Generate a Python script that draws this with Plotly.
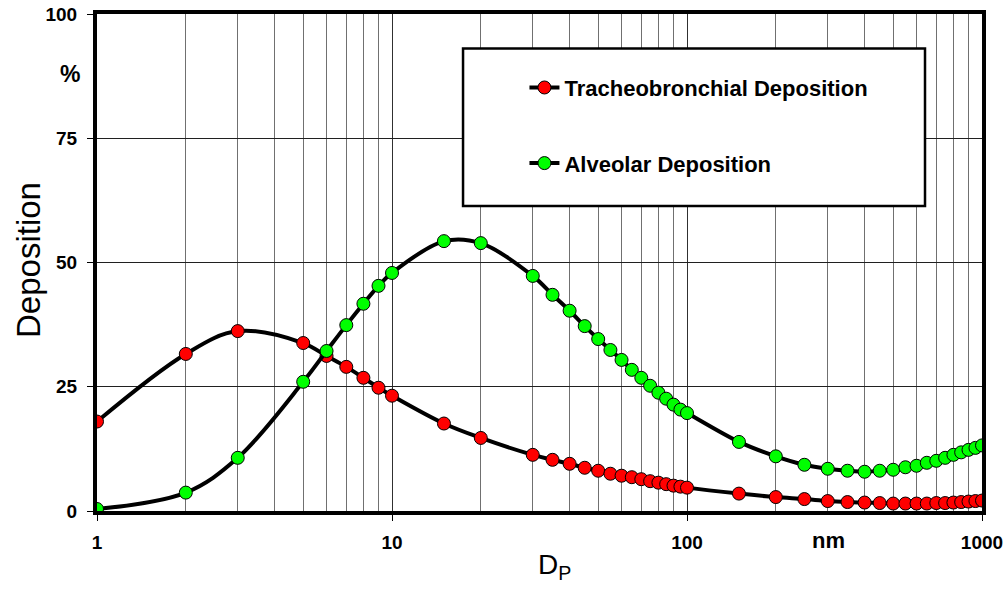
import plotly.graph_objects as go

# ---- data ----
diameter_nm = [1, 2, 3, 5, 6, 7, 8, 9, 10, 15, 20,
               30, 35, 40, 45, 50, 55, 60, 65, 70, 75, 80, 85, 90, 95, 100,
               150, 200, 250, 300, 350, 400, 450, 500, 550, 600, 650, 700,
               750, 800, 850, 900, 950, 1000]
tracheobronchial = [18.0, 31.6, 36.2, 33.8, 31.2, 29.0, 26.8, 24.8, 23.2, 17.6, 14.7,
                    11.3, 10.3, 9.5, 8.7, 8.1, 7.5, 7.1, 6.8, 6.4, 6.0, 5.7, 5.4, 5.1, 4.9, 4.7,
                    3.5, 2.8, 2.4, 2.0, 1.8, 1.7, 1.6, 1.5, 1.5, 1.5, 1.5, 1.6,
                    1.6, 1.7, 1.8, 1.9, 2.0, 2.1]
alveolar = [0.4, 3.7, 10.7, 26.0, 32.2, 37.4, 41.7, 45.3, 47.9, 54.3, 53.9,
            47.3, 43.5, 40.3, 37.2, 34.6, 32.4, 30.4, 28.4, 26.8, 25.2, 23.8, 22.6, 21.4, 20.4, 19.7,
            13.9, 11.0, 9.3, 8.5, 8.1, 7.9, 8.1, 8.3, 8.8, 9.1, 9.7, 10.1,
            10.7, 11.3, 11.8, 12.3, 12.7, 13.2]
series_names = ["Tracheobronchial Deposition", "Alveolar Deposition"]
x_major_ticks = [1, 10, 100, 1000]
x_major_labels = ["1", "10", "100", "1000"]
x_minor_ticks = [2, 3, 4, 5, 6, 7, 8, 9, 20, 30, 40, 50, 60, 70, 80, 90,
                 200, 300, 400, 500, 600, 700, 800, 900]
y_ticks = [0, 25, 50, 75, 100]

FONT = "Liberation Sans, Arial, sans-serif"

fig = go.Figure()
for name, vals, color, grp in [(series_names[0], tracheobronchial, "#FF0000", "a"),
                               (series_names[1], alveolar, "#00FF00", "b")]:
    fig.add_trace(go.Scatter(
        x=diameter_nm, y=vals, name=name, mode="lines+markers",
        legendgroup=grp,
        line=dict(color="black", width=4, shape="spline", smoothing=1.0),
        marker=dict(symbol="circle", size=13, color=color,
                    line=dict(color="black", width=1)),
    ))

fig.update_layout(
    width=1008, height=590,
    margin=dict(l=97, r=26, t=14, b=79, autoexpand=False),
    plot_bgcolor="white", paper_bgcolor="white",
    font=dict(family=FONT, color="black"),
    showlegend=True,
    legend=dict(
        x=0.483, y=0.894, xanchor="left", yanchor="top",
        bgcolor="rgba(0,0,0,0)", borderwidth=0,
        font=dict(family=FONT, size=22, color="black", weight="bold"),
        traceorder="grouped", tracegroupgap=44,
    ),
    shapes=[dict(type="rect", xref="paper", yref="paper",
                 x0=0.4136, x1=0.9356, y0=0.6135, y1=0.9307,
                 line=dict(color="black", width=2.5), fillcolor="white",
                 layer="above")],
    annotations=[
        dict(text="%", xref="paper", yref="y", x=-0.017, y=88, xanchor="right",
             yanchor="middle", showarrow=False,
             font=dict(family=FONT, size=23, weight="bold")),
        dict(text="nm", xref="x", yref="paper", x=2.48, y=-0.059, xanchor="center",
             yanchor="middle", showarrow=False,
             font=dict(family=FONT, size=22, weight="bold")),
        dict(text="Deposition", xref="paper", yref="paper", x=-0.078, y=0.505,
             textangle=-90, xanchor="center", yanchor="middle", showarrow=False,
             font=dict(family=FONT, size=33)),
        dict(text="D<sub>P</sub>", xref="paper", yref="paper", x=0.5175, y=-0.072,
             xanchor="center", yanchor="top", showarrow=False,
             font=dict(family=FONT, size=28)),
    ],
)

fig.update_xaxes(
    type="log", range=[0, 3], automargin=False,
    tickvals=x_major_ticks, ticktext=x_major_labels,
    tickfont=dict(family=FONT, size=19, weight="bold"),
    ticks="outside", ticklen=6, tickwidth=1, tickcolor="black",
    showgrid=True, gridcolor="#303030", gridwidth=1,
    minor=dict(tickvals=x_minor_ticks, showgrid=True, gridcolor="#707070",
               gridwidth=1, ticks=""),
    showline=True, linecolor="black", linewidth=4, mirror=True,
    zeroline=False, ticklabelstandoff=5,
)
fig.update_yaxes(
    range=[0, 100], tickvals=y_ticks, automargin=False,
    tickfont=dict(family=FONT, size=19, weight="bold"),
    ticks="outside", ticklen=6, tickwidth=1, tickcolor="black",
    showgrid=True, gridcolor="#202020", gridwidth=1,
    showline=True, linecolor="black", linewidth=4, mirror=True,
    zeroline=False, ticklabelstandoff=6,
)

fig.write_html("out.html")
